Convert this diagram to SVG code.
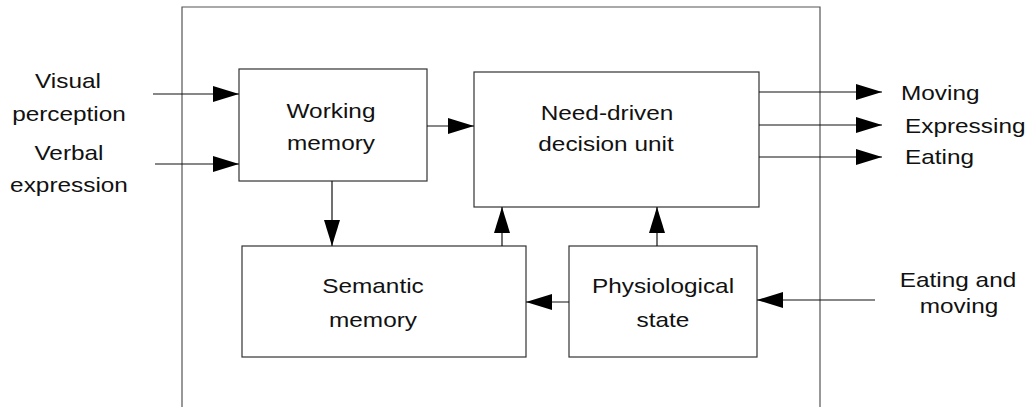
<svg xmlns="http://www.w3.org/2000/svg" width="1030" height="407" viewBox="0 0 1030 407">
  <style>
    .frame { fill: none; stroke: #555; stroke-width: 1.2; }
    .box { fill: #fff; stroke: #333; stroke-width: 1.2; }
    .wire { fill: none; stroke: #111; stroke-width: 1.2; marker-end: url(#head); }
    text { font-family: "Liberation Sans", Arial, sans-serif; font-size: 21px; fill: #111; text-anchor: middle; }
    .lead { text-anchor: start; }
  </style>
  <defs>
    <marker id="head" markerUnits="userSpaceOnUse" markerWidth="27" markerHeight="17" refX="26" refY="8" orient="auto">
      <path d="M0,0 L26,8 L0,16 z" fill="#000"/>
    </marker>
  </defs>
  <rect width="1030" height="407" fill="#fff"/>

  <!-- system boundary (open at the bottom) -->
  <path class="frame" d="M182,407 V7 H820 V407"/>

  <g id="working-memory">
    <rect class="box" x="239" y="69" width="188" height="112"/>
    <text transform="translate(331,0) scale(1.16,1)" y="118">Working</text>
    <text transform="translate(331,0) scale(1.16,1)" y="150">memory</text>
  </g>

  <g id="decision-unit">
    <rect class="box" x="474" y="72" width="285" height="135"/>
    <text transform="translate(607,0) scale(1.16,1)" y="120">Need-driven</text>
    <text transform="translate(606,0) scale(1.16,1)" y="151">decision unit</text>
  </g>

  <g id="semantic-memory">
    <rect class="box" x="242" y="246" width="284" height="111"/>
    <text transform="translate(373,0) scale(1.16,1)" y="293">Semantic</text>
    <text transform="translate(373,0) scale(1.16,1)" y="327">memory</text>
  </g>

  <g id="physiological-state">
    <rect class="box" x="569" y="246" width="188" height="111"/>
    <text transform="translate(663,0) scale(1.16,1)" y="293">Physiological</text>
    <text transform="translate(663,0) scale(1.16,1)" y="327">state</text>
  </g>

  <g id="inputs">
    <text transform="translate(68,0) scale(1.16,1)" y="88">Visual</text>
    <text transform="translate(69,0) scale(1.16,1)" y="121">perception</text>
    <text transform="translate(69,0) scale(1.16,1)" y="160">Verbal</text>
    <text transform="translate(69,0) scale(1.16,1)" y="192">expression</text>
    <text transform="translate(958,0) scale(1.16,1)" y="287">Eating and</text>
    <text transform="translate(959,0) scale(1.16,1)" y="313">moving</text>
  </g>

  <g id="outputs">
    <text class="lead" transform="translate(901,0) scale(1.16,1)" y="100">Moving</text>
    <text class="lead" transform="translate(905,0) scale(1.16,1)" y="133">Expressing</text>
    <text class="lead" transform="translate(905,0) scale(1.16,1)" y="164">Eating</text>
  </g>

  <g id="connectors">
    <line class="wire" x1="153" y1="94" x2="239" y2="94"/>
    <line class="wire" x1="155" y1="164" x2="239" y2="164"/>
    <line class="wire" x1="427" y1="126" x2="474" y2="126"/>
    <line class="wire" x1="332" y1="181" x2="332" y2="246"/>
    <line class="wire" x1="502" y1="246" x2="502" y2="207"/>
    <line class="wire" x1="657" y1="246" x2="657" y2="207"/>
    <line class="wire" x1="569" y1="302" x2="526" y2="302"/>
    <line class="wire" x1="875" y1="300" x2="757" y2="300"/>
    <line class="wire" x1="759" y1="92" x2="882" y2="92"/>
    <line class="wire" x1="759" y1="125" x2="882" y2="125"/>
    <line class="wire" x1="759" y1="157" x2="882" y2="157"/>
  </g>
</svg>
